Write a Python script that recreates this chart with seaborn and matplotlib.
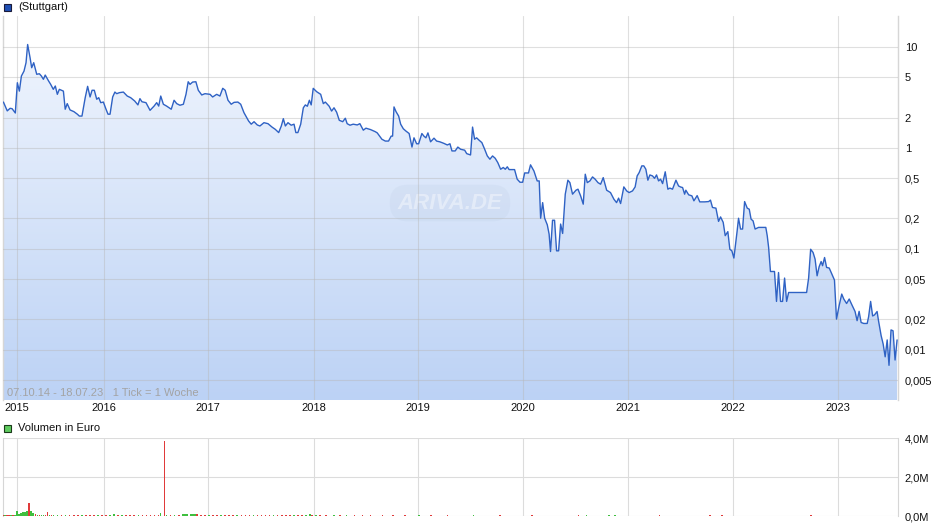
import numpy as np
import pandas as pd
import seaborn as sns
import matplotlib.pyplot as plt
from matplotlib.patches import PathPatch, Rectangle
from matplotlib.colors import LinearSegmentedColormap
from matplotlib.ticker import NullLocator

sns.set_style('white')
plt.rcParams['font.family'] = ['Liberation Sans', 'DejaVu Sans']

# weekly ticks (1 tick = 1 week), price in EUR
week = [
    0.2, 2.1, 3.5, 4.5, 6.1, 7.1, 8.1, 9.1, 10.4, 11.4,
    12.2, 13.4, 14.2, 15.2, 16.7, 18.0, 19.0, 20.0, 20.9, 22.6,
    23.6, 24.9, 25.9, 26.9, 27.9, 29.9, 30.8, 31.8, 33.2, 35.1,
    36.8, 37.8, 39.1, 40.7, 41.9, 43.1, 44.1, 45.2, 46.4, 47.4,
    48.4, 49.7, 51.0, 52.0, 53.0, 54.3, 55.4, 56.3, 57.6, 59.6,
    61.5, 63.2, 65.2, 66.8, 67.8, 68.8, 70.8, 72.8, 74.8, 76.1,
    77.1, 78.1, 79.4, 81.0, 83.3, 84.7, 86.0, 87.6, 89.3, 90.6,
    91.7, 92.6, 93.9, 95.5, 96.7, 98.4, 100.0, 102.5, 103.8, 105.8,
    107.4, 108.8, 110.0, 111.4, 113.0, 114.4, 116.3, 117.7, 119.3, 121.6,
    122.9, 124.3, 125.9, 127.2, 129.2, 131.2, 133.2, 134.8, 136.5, 137.8,
    138.8, 139.8, 141.1, 142.7, 144.1, 145.0, 146.0, 147.4, 148.7, 149.7,
    150.7, 151.7, 152.6, 153.6, 155.3, 157.3, 158.6, 159.6, 161.5, 162.7,
    163.9, 165.2, 166.5, 168.2, 169.5, 170.4, 171.8, 173.4, 175.4, 176.7,
    178.4, 179.7, 182.0, 184.3, 185.3, 187.6, 189.3, 190.9, 192.2, 192.9,
    193.6, 194.6, 195.9, 196.9, 198.2, 199.5, 201.1, 202.5, 203.5, 204.8,
    205.8, 207.4, 208.4, 209.4, 210.4, 211.7, 213.4, 214.7, 216.3, 218.3,
    220.0, 221.3, 222.3, 223.9, 225.2, 226.6, 228.6, 229.6, 231.5, 232.5,
    233.5, 234.5, 235.8, 237.1, 238.5, 239.8, 241.1, 242.4, 243.7, 245.0,
    246.4, 247.7, 248.7, 249.7, 250.6, 253.3, 254.6, 256.0, 257.3, 258.3,
    260.2, 261.2, 262.9, 264.5, 265.5, 266.2, 267.2, 268.2, 269.5, 270.4,
    271.1, 272.1, 273.1, 274.1, 275.1, 276.1, 277.1, 278.4, 279.7, 280.7,
    282.0, 283.7, 284.7, 286.0, 287.3, 288.3, 289.3, 290.6, 291.9, 293.2,
    294.6, 295.9, 297.2, 298.9, 300.8, 302.5, 303.8, 304.8, 305.8, 307.4,
    308.8, 310.0, 311.7, 313.0, 314.0, 315.0, 316.3, 317.3, 318.3, 319.3,
    320.3, 321.6, 322.6, 323.6, 324.6, 325.6, 326.6, 327.9, 329.2, 330.2,
    331.5, 333.2, 334.5, 335.5, 336.5, 337.5, 338.1, 339.5, 341.1, 342.1,
    343.7, 345.0, 347.4, 349.4, 350.3, 351.3, 353.0, 354.3, 355.3, 356.6,
    357.6, 358.9, 359.9, 360.9, 361.9, 363.5, 364.2, 365.2, 366.2, 367.2,
    368.5, 369.5, 370.4, 371.4, 372.4, 374.1, 377.7, 378.4, 379.1, 380.0,
    382.0, 383.0, 384.0, 385.0, 386.0, 387.0, 388.0, 389.0, 397.9, 398.9,
    399.9, 401.1, 402.1, 403.1, 404.1, 405.1, 405.8, 406.8, 407.8, 409.1,
    410.4, 411.7, 412.7, 414.0, 415.3, 416.3, 417.7, 419.0, 420.3, 421.9,
    422.9, 423.9, 424.9, 426.2, 427.9, 428.6, 429.6, 430.6, 431.5, 432.8,
    433.5, 434.8, 435.8, 436.8, 437.8, 438.7, 439.7, 440.7, 441.7, 442.7,
]
price = [
    2.85, 2.33, 2.47, 2.45, 2.22, 4.43, 3.66, 5.16, 5.78, 7.00,
    10.6, 7.84, 6.24, 7.00, 5.37, 5.44, 5.16, 4.79, 5.28, 4.60,
    4.27, 3.81, 4.11, 3.40, 3.81, 3.66, 2.42, 2.75, 2.38, 2.29,
    2.16, 2.07, 2.07, 3.15, 4.08, 3.20, 3.73, 3.73, 3.04, 3.15,
    2.81, 2.85, 2.42, 2.16, 2.16, 3.20, 3.58, 3.45, 3.53, 3.58,
    3.27, 3.15, 2.92, 2.67, 3.08, 2.87, 2.81, 2.36, 2.60, 2.81,
    2.60, 3.27, 2.71, 2.60, 2.42, 2.97, 2.75, 2.65, 2.71, 3.40,
    4.53, 4.27, 4.50, 4.53, 3.73, 3.35, 3.45, 3.40, 3.20, 3.40,
    3.27, 3.90, 3.73, 2.97, 2.71, 2.83, 2.85, 2.71, 2.24, 1.85,
    1.72, 1.82, 1.69, 1.65, 1.78, 1.74, 1.61, 1.53, 1.42, 1.65,
    1.95, 1.65, 1.78, 1.68, 1.72, 1.42, 1.42, 1.72, 2.50, 2.67,
    2.59, 2.97, 2.67, 3.90, 3.61, 3.40, 2.75, 2.85, 2.59, 2.32,
    2.50, 2.26, 1.88, 1.82, 1.97, 1.74, 1.68, 1.72, 1.69, 1.74,
    1.50, 1.57, 1.52, 1.45, 1.41, 1.22, 1.17, 1.17, 1.31, 1.31,
    2.55, 2.29, 2.07, 1.72, 1.55, 1.47, 1.39, 1.02, 1.26, 1.10,
    1.10, 1.39, 1.31, 1.26, 1.41, 1.15, 1.25, 1.17, 1.15, 1.11,
    1.07, 1.10, 0.934, 0.934, 1.02, 0.97, 0.95, 0.878, 0.852, 1.61,
    1.22, 1.26, 1.19, 1.13, 0.97, 0.833, 0.773, 0.833, 0.79, 0.715,
    0.615, 0.64, 0.615, 0.65, 0.61, 0.61, 0.49, 0.457, 0.457, 0.565,
    0.565, 0.68, 0.59, 0.471, 0.471, 0.201, 0.287, 0.201, 0.173, 0.14,
    0.094, 0.192, 0.192, 0.0955, 0.0955, 0.176, 0.142, 0.348, 0.479, 0.453,
    0.348, 0.381, 0.39, 0.335, 0.277, 0.549, 0.453, 0.471, 0.516, 0.49,
    0.453, 0.437, 0.508, 0.381, 0.361, 0.31, 0.287, 0.318, 0.281, 0.411,
    0.375, 0.361, 0.375, 0.411, 0.528, 0.57, 0.664, 0.664, 0.615, 0.479,
    0.54, 0.528, 0.50, 0.54, 0.471, 0.49, 0.443, 0.58, 0.39, 0.40,
    0.39, 0.479, 0.42, 0.41, 0.405, 0.348, 0.381, 0.343, 0.335, 0.299,
    0.337, 0.292, 0.292, 0.294, 0.304, 0.257, 0.253, 0.187, 0.207, 0.183,
    0.135, 0.148, 0.099, 0.0955, 0.081, 0.150, 0.201, 0.157, 0.157, 0.294,
    0.253, 0.247, 0.197, 0.189, 0.157, 0.163, 0.163, 0.135, 0.103, 0.0596,
    0.0596, 0.0301, 0.0582, 0.0301, 0.0301, 0.0513, 0.0301, 0.0369, 0.0369, 0.0513,
    0.099, 0.092, 0.079, 0.054, 0.0664, 0.0748, 0.068, 0.082, 0.0654, 0.0645,
    0.0562, 0.049, 0.0201, 0.0273, 0.0356, 0.0318, 0.0287, 0.0318, 0.0279, 0.0239,
    0.0194, 0.024, 0.0186, 0.0182, 0.0182, 0.0212, 0.0301, 0.0216, 0.0221, 0.0239,
    0.0194, 0.0138, 0.0114, 0.0085, 0.0125, 0.0070, 0.0157, 0.0154, 0.0079, 0.0125,
]

# volume in million EUR, up = green, down = red
vol_week = [0, 1, 2, 3, 4, 5, 6, 7, 8, 9, 10, 11, 12, 13, 14, 15, 16, 17, 18, 19,
            20, 21, 22, 23, 24, 25, 27, 29, 31, 33, 35, 37, 39, 41, 43, 45, 47, 49,
            51, 53, 55, 57, 59, 61, 63, 65, 67, 69, 71, 73, 75, 77, 78, 80, 81, 83,
            85, 87, 89, 90, 91, 93, 94, 95, 96, 98, 100, 102, 104, 106, 108, 110,
            112, 114, 116, 118, 120, 122, 124, 126, 128, 130, 132, 134, 136, 138,
            140, 142, 144, 146, 148, 150, 152, 153, 155, 157, 160, 164, 167, 170,
            174, 178, 182, 188, 193, 199, 206, 212, 220, 233, 246, 262, 285, 289,
            300, 303, 325, 350, 356, 400]
vol_mio = [0.04, 0.03, 0.05, 0.03, 0.04, 0.03, 0.05, 0.25, 0.08, 0.14, 0.19, 0.22,
           0.25, 0.65, 0.25, 0.17, 0.08, 0.05, 0.07, 0.04, 0.06, 0.04, 0.22, 0.05,
           0.04, 0.03, 0.03, 0.04, 0.03, 0.03, 0.04, 0.03, 0.03, 0.04, 0.03, 0.03,
           0.04, 0.03, 0.03, 0.04, 0.08, 0.05, 0.03, 0.03, 0.04, 0.03, 0.03, 0.04,
           0.03, 0.03, 0.04, 0.06, 0.14, 3.85, 0.04, 0.03, 0.05, 0.04, 0.12, 0.10,
           0.09, 0.10, 0.08, 0.09, 0.12, 0.04, 0.03, 0.04, 0.03, 0.03, 0.04, 0.03,
           0.03, 0.04, 0.03, 0.03, 0.04, 0.03, 0.03, 0.03, 0.04, 0.03, 0.03, 0.03,
           0.04, 0.03, 0.03, 0.03, 0.04, 0.03, 0.03, 0.05, 0.10, 0.06, 0.04, 0.03,
           0.03, 0.04, 0.03, 0.03, 0.03, 0.04, 0.03, 0.03, 0.03, 0.03, 0.04, 0.03,
           0.03, 0.04, 0.03, 0.04, 0.03, 0.04, 0.03, 0.03, 0.03, 0.04, 0.03, 0.04]
vol_up = [0, 1, 0, 0, 1, 0, 1, 1, 1, 1, 1, 1, 1, 0, 1, 1, 0, 1, 0, 1,
          1, 0, 0, 1, 0, 1, 1, 0, 1, 0, 0, 0, 1, 0, 0, 0, 1, 0,
          0, 1, 1, 0, 1, 0, 0, 0, 1, 0, 0, 0, 0, 0, 1, 0, 1, 0,
          1, 0, 1, 1, 1, 1, 1, 1, 0, 0, 0, 1, 0, 0, 1, 0,
          0, 0, 1, 0, 0, 0, 1, 0, 0, 0, 0, 1, 0, 0,
          0, 0, 1, 0, 0, 1, 1, 0, 1, 0, 0, 1, 0, 1,
          0, 0, 0, 0, 0, 0, 1, 0, 0, 1, 0, 0, 0, 1,
          1, 1, 0, 0, 0, 0]

years = ['2015', '2016', '2017', '2018', '2019', '2020', '2021', '2022', '2023']
year_week = [7, 50, 101.5, 154, 205.5, 257.5, 309.5, 361.5, 413.5]
price_ticks = [10, 5, 2, 1, 0.5, 0.2, 0.1, 0.05, 0.02, 0.01, 0.005]
price_labels = ['10', '5', '2', '1', '0,5', '0,2', '0,1', '0,05', '0,02', '0,01', '0,005']
vol_ticks = [0, 2, 4]
vol_labels = ['0,0M', '2,0M', '4,0M']

df = pd.DataFrame({'week': week, 'price': price})
dfv = pd.DataFrame({'week': vol_week, 'vol': vol_mio, 'up': vol_up})

x_max = 443.1

fig = plt.figure(figsize=(9.4, 5.26), dpi=100)
ax = fig.add_axes([0.0032, 0.2395, 0.952, 0.730])
axv = fig.add_axes([0.0032, 0.019, 0.952, 0.148])

# price panel, gradient fill under the line
ax.set_yscale('log')
area = ax.fill_between(df['week'], df['price'], 1e-4, color='none', lw=0)
cmap = LinearSegmentedColormap.from_list('fill', ['#bcd2f5', '#f3f7fe'])
grad = np.linspace(0, 1, 256).reshape(-1, 1)
im = ax.imshow(grad, cmap=cmap, aspect='auto', extent=[0, 1, 0, 1], origin='lower',
               transform=ax.transAxes, zorder=1)
clip = PathPatch(area.get_paths()[0], transform=ax.transData, facecolor='none', edgecolor='none')
ax.add_patch(clip)
im.set_clip_path(clip)

sns.lineplot(data=df, x='week', y='price', ax=ax, color='#2f62c4', lw=1.0,
             estimator=None, sort=False, zorder=4)

ax.set_xlim(0, x_max)
ax.set_ylim(0.00317, 20.3)
ax.set_yticks(price_ticks)
ax.set_yticklabels(price_labels)
ax.yaxis.set_minor_locator(NullLocator())
ax.yaxis.tick_right()
ax.set_xticks(year_week)
ax.set_xticklabels(years)
ax.tick_params(length=0, labelsize=8, colors='#111111')
ax.tick_params(axis='y', pad=5)
ax.tick_params(axis='x', pad=2)
ax.set_axisbelow(False)
ax.grid(True, color='#b8b8b8', alpha=0.45, lw=0.8, zorder=3)
ax.set_xlabel('')
ax.set_ylabel('')
for s in ['top', 'bottom']:
    ax.spines[s].set_visible(False)
for s in ['left', 'right']:
    ax.spines[s].set_color('#d6d6d6')
    ax.spines[s].set_linewidth(1)

ax.text(0.0045, 0.004, '07.10.14 - 18.07.23   1 Tick = 1 Woche', transform=ax.transAxes,
        color='#a3a3a3', fontsize=8, va='bottom', ha='left', zorder=5)
ax.text(0.4995, 0.513, 'ARIVA.DE', transform=ax.transAxes, ha='center', va='center',
        fontsize=16, fontweight='bold', fontstyle='italic', color='white', alpha=0.4,
        zorder=2,
        bbox=dict(boxstyle='round,pad=0.35,rounding_size=0.8', fc='#b8c8e2', ec='none', alpha=0.18))

# volume panel
colors = ['#3fbf3f' if u else '#e03a3a' for u in dfv['up']]
axv.bar(dfv['week'], dfv['vol'], width=0.8, color=colors, lw=0, zorder=3)
axv.set_xlim(0, x_max)
axv.set_ylim(0, 4.0)
axv.set_yticks(vol_ticks)
axv.set_yticklabels(vol_labels)
axv.yaxis.tick_right()
axv.set_xticks(year_week)
axv.set_xticklabels([])
axv.tick_params(length=0, labelsize=8, colors='#111111', pad=5)
axv.grid(True, color='#dcdcdc', lw=0.8, zorder=0)
axv.set_axisbelow(True)
for s in ['top', 'bottom']:
    axv.spines[s].set_visible(False)
for s in ['left', 'right']:
    axv.spines[s].set_color('#d6d6d6')

# legend squares
fig.patches.append(Rectangle((4 / 940, 1 - 11 / 526), 7 / 940, 7 / 526, transform=fig.transFigure,
                             facecolor='#1f4fb4', edgecolor='#1a1a3a', lw=0.8))
fig.text(18 / 940, 1 - 7 / 526, '(Stuttgart)', fontsize=8, va='center', ha='left', color='#111111')
fig.patches.append(Rectangle((4 / 940, 1 - 432 / 526), 7 / 940, 7 / 526, transform=fig.transFigure,
                             facecolor='#5fcb5f', edgecolor='#1a3a1a', lw=0.8))
fig.text(18 / 940, 1 - 428 / 526, 'Volumen in Euro', fontsize=8, va='center', ha='left', color='#111111')

fig.savefig('out.png', dpi=100)
